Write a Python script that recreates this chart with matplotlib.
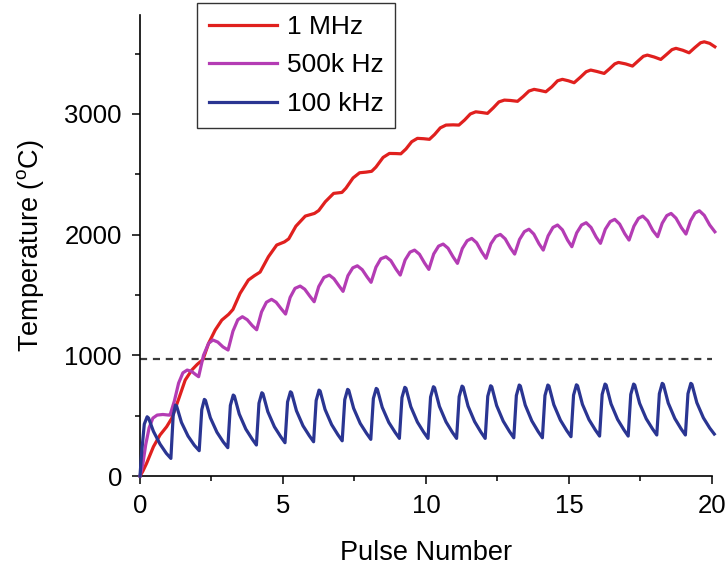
import matplotlib
matplotlib.use('Agg')
import matplotlib.pyplot as plt

plt.rcParams['font.family'] = ['Liberation Sans', 'DejaVu Sans']
plt.rcParams['mathtext.fontset'] = 'custom'
plt.rcParams['mathtext.rm'] = 'Liberation Sans'

# 1 MHz curve
red_x = [0, 0.1, 0.23, 0.47, 0.7, 0.93, 1.11, 1.34, 1.58, 1.81, 2.0, 2.2, 2.4, 2.63, 2.86,
         3.1, 3.25, 3.5, 3.79, 4.0, 4.2, 4.49, 4.78, 5.05, 5.2, 5.45, 5.78, 6.1, 6.25, 6.48,
         6.77, 7.06, 7.2, 7.45, 7.68, 7.9, 8.1, 8.25, 8.5, 8.72, 8.95, 9.12, 9.3, 9.5, 9.7,
         9.92, 10.12, 10.3, 10.5, 10.7, 10.95, 11.15, 11.35, 11.55, 11.74, 11.95, 12.15, 12.35,
         12.55, 12.74, 12.95, 13.2, 13.4, 13.6, 13.78, 13.98, 14.19, 14.4, 14.6, 14.77, 14.98,
         15.18, 15.4, 15.6, 15.76, 15.98, 16.23, 16.42, 16.6, 16.73, 16.98, 17.22, 17.42, 17.6,
         17.74, 17.98, 18.21, 18.42, 18.6, 18.74, 18.98, 19.2, 19.4, 19.6, 19.73, 19.92, 20.1]
red_y = [0, 40, 105, 243, 340, 408, 478, 630, 795, 878, 925, 965, 1100, 1210, 1292,
         1340, 1380, 1514, 1624, 1660, 1690, 1817, 1914, 1940, 1965, 2070, 2154, 2176, 2200, 2273,
         2342, 2350, 2385, 2470, 2513, 2518, 2525, 2560, 2640, 2673, 2672, 2670, 2710, 2770, 2798,
         2795, 2790, 2830, 2885, 2908, 2910, 2908, 2950, 3000, 3018, 3012, 3005, 3050,
         3100, 3115, 3112, 3105, 3145, 3190, 3204, 3195, 3184, 3225, 3275, 3287, 3275,
         3259, 3305, 3350, 3364, 3352, 3336, 3375, 3415, 3427, 3415, 3397, 3440, 3478,
         3488, 3472, 3452, 3495, 3533, 3544, 3528, 3507, 3550, 3590, 3598, 3585, 3557]

# 500k Hz curve
mag_x = [0, 0.1, 0.2, 0.32, 0.45, 0.6, 0.8, 1.0,
         1.05, 1.2, 1.35, 1.5, 1.65, 1.8, 1.95, 2.05,
         2.22, 2.4, 2.55, 2.72, 2.9, 3.08,
         3.25, 3.42, 3.58, 3.75, 3.93, 4.08,
         4.25, 4.42, 4.6, 4.76, 4.94, 5.09,
         5.25, 5.42, 5.6, 5.76, 5.94, 6.09,
         6.25, 6.43, 6.62, 6.78, 6.96, 7.1,
         7.27, 7.44, 7.6, 7.77, 7.94, 8.08,
         8.25, 8.42, 8.6, 8.77, 8.95, 9.1,
         9.27, 9.44, 9.6, 9.77, 9.95, 10.1,
         10.27, 10.44, 10.6, 10.77, 10.95, 11.1,
         11.27, 11.44, 11.6, 11.77, 11.95, 12.1,
         12.27, 12.44, 12.6, 12.77, 12.95, 13.1,
         13.27, 13.44, 13.6, 13.77, 13.95, 14.1,
         14.27, 14.44, 14.6, 14.77, 14.95, 15.1,
         15.27, 15.44, 15.6, 15.77, 15.95, 16.1,
         16.27, 16.44, 16.6, 16.77, 16.95, 17.1,
         17.27, 17.43, 17.58, 17.75, 17.93, 18.1,
         18.26, 18.42, 18.57, 18.74, 18.93, 19.09,
         19.25, 19.41, 19.56, 19.73, 19.92, 20.1]
mag_y = [0, 100, 260, 400, 480, 505, 510, 505,
         505, 620, 770, 855, 878, 868, 840, 823,
         1000, 1100, 1127, 1110, 1070, 1044,
         1200, 1295, 1320, 1295, 1245, 1212,
         1360, 1440, 1464, 1440, 1385, 1342,
         1480, 1555, 1574, 1548, 1490, 1444,
         1570, 1645, 1665, 1635, 1575, 1530,
         1660, 1725, 1742, 1710, 1650, 1605,
         1730, 1800, 1817, 1785, 1715, 1665,
         1790, 1855, 1872, 1838, 1765, 1712,
         1840, 1905, 1922, 1888, 1815, 1762,
         1885, 1950, 1969, 1933, 1857, 1804,
         1925, 1985, 2002, 1965, 1890, 1839,
         1960, 2025, 2045, 2005, 1925, 1872,
         1990, 2060, 2080, 2040, 1955, 1900,
         2015, 2080, 2099, 2060, 1980, 1928,
         2045, 2108, 2127, 2088, 2008, 1955,
         2070, 2135, 2154, 2115, 2035, 1983,
         2095, 2158, 2176, 2137, 2058, 2005,
         2115, 2180, 2198, 2160, 2080, 2024]

# 100 kHz curve
blue_x = [0, 0.06, 0.15, 0.25, 0.3, 0.47, 0.7, 0.92,
          1.08, 1.16, 1.24, 1.28, 1.45, 1.68, 1.9,
          2.07, 2.16, 2.25, 2.29, 2.46, 2.69, 2.91,
          3.07, 3.16, 3.26, 3.3, 3.47, 3.7, 3.92,
          4.07, 4.16, 4.26, 4.3, 4.47, 4.7, 4.92,
          5.07, 5.16, 5.26, 5.3, 5.47, 5.7, 5.92,
          6.07, 6.16, 6.26, 6.3, 6.47, 6.7, 6.92,
          7.07, 7.16, 7.26, 7.3, 7.47, 7.7, 7.92,
          8.07, 8.16, 8.26, 8.3, 8.47, 8.7, 8.92,
          9.07, 9.16, 9.26, 9.3, 9.47, 9.7, 9.92,
          10.07, 10.16, 10.26, 10.3, 10.47, 10.7, 10.92,
          11.07, 11.16, 11.26, 11.3, 11.47, 11.7, 11.92,
          12.07, 12.16, 12.26, 12.3, 12.47, 12.7, 12.92,
          13.07, 13.16, 13.26, 13.3, 13.47, 13.7, 13.92,
          14.07, 14.16, 14.26, 14.3, 14.47, 14.7, 14.92,
          15.07, 15.16, 15.26, 15.3, 15.47, 15.7, 15.92,
          16.07, 16.16, 16.26, 16.3, 16.47, 16.7, 16.92,
          17.07, 17.16, 17.26, 17.3, 17.47, 17.7, 17.92,
          18.07, 18.16, 18.26, 18.3, 18.47, 18.7, 18.92,
          19.07, 19.16, 19.26, 19.3, 19.47, 19.7, 19.92, 20.08]
blue_y = [0, 200, 430, 491, 480, 370, 265, 188,
          146, 500, 588, 580, 444, 331, 255,
          210, 550, 635, 627, 483, 363, 283,
          235, 585, 671, 663, 514, 389, 307,
          257, 603, 690, 682, 533, 408, 326,
          276, 614, 698, 690, 541, 416, 334,
          284, 626, 712, 704, 552, 426, 342,
          292, 633, 718, 710, 561, 436, 354,
          304, 642, 726, 718, 569, 444, 362,
          312, 650, 735, 727, 574, 447, 363,
          312, 654, 740, 732, 577, 449, 363,
          312, 658, 745, 737, 580, 451, 364,
          312, 661, 748, 740, 584, 455, 369,
          317, 667, 754, 746, 588, 457, 369,
          317, 667, 754, 746, 591, 463, 377,
          326, 670, 756, 748, 594, 467, 382,
          331, 676, 762, 754, 598, 469, 383,
          331, 676, 762, 754, 602, 475, 391,
          340, 682, 768, 760, 605, 477, 391,
          340, 682, 768, 760, 608, 482, 398, 348]

threshold = 970

fig = plt.figure(figsize=(7.28, 5.69), dpi=100)
ax = fig.add_axes([0.1923, 0.1634, 0.7857, 0.8102])

ax.axhline(threshold, color='#3a3a3a', lw=1.6, dashes=(3.2, 2.6))
ax.plot(red_x, red_y, color='#e0201e', lw=2.3, label='1 MHz', clip_on=False, zorder=3)
ax.plot(mag_x, mag_y, color='#b43cb4', lw=2.3, label='500k Hz', clip_on=False, zorder=3)
ax.plot(blue_x, blue_y, color='#2a3592', lw=2.3, label='100 kHz', clip_on=False, zorder=3)

ax.set_xlim(0, 20)
ax.set_ylim(0, 3820)
ax.set_xticks([0, 5, 10, 15, 20])
ax.set_xticks([2.5, 7.5, 12.5, 17.5], minor=True)
ax.set_yticks([0, 1000, 2000, 3000])
ax.set_yticks([500, 1500, 2500, 3500], minor=True)
ax.tick_params(which='major', direction='out', length=6, width=1.1, labelsize=18.5, pad=7)
ax.tick_params(which='minor', direction='out', length=3.5, width=1.1)

for s in ['top', 'right']:
    ax.spines[s].set_visible(False)
for s in ['left', 'bottom']:
    ax.spines[s].set_linewidth(1.2)

ax.set_xlabel('Pulse Number', fontsize=19.5, labelpad=16)
ax.set_ylabel('Temperature ($^{\\mathrm{o}}$C)', fontsize=19.5, labelpad=13)

leg = ax.legend(loc='upper left', bbox_to_anchor=(0.2706, 0.9947), bbox_transform=fig.transFigure,
                fontsize=19, frameon=True, fancybox=False, borderaxespad=0,
                handlelength=2.6, handletextpad=0.35, labelspacing=0.55, borderpad=0.45)
leg.get_frame().set_edgecolor('black')
leg.get_frame().set_linewidth(1.0)

fig.savefig('out.png', dpi=100)
